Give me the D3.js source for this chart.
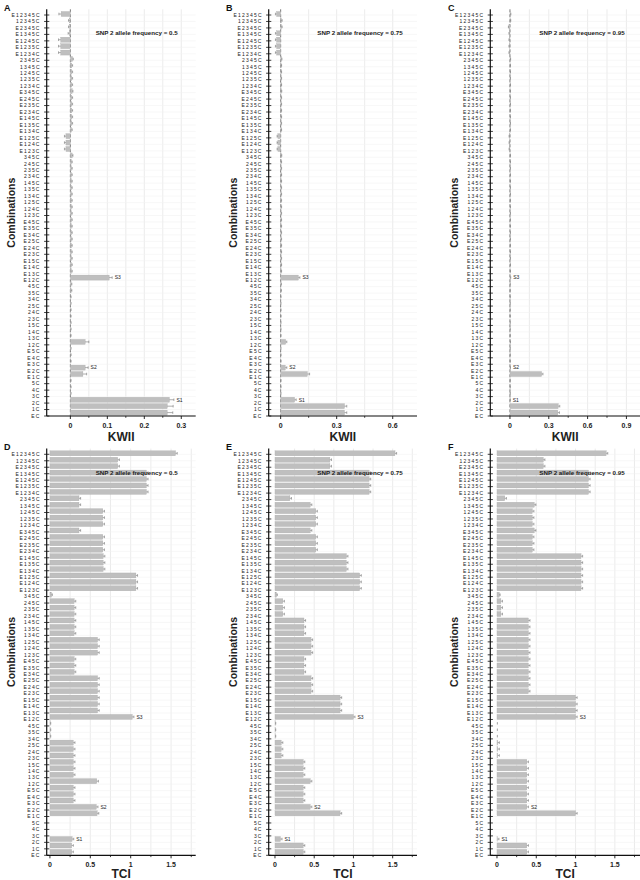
<!DOCTYPE html>
<html><head><meta charset="utf-8">
<script src="https://cdn.jsdelivr.net/npm/d3@7"></script>
<style>body{margin:0;background:#fff}svg{display:block}</style>
</head><body><svg id="c" width="640" height="880"></svg>
<script>
// categories bottom -> top
const categories = ["EC","1C","2C","3C","4C","5C",
 "E1C","E2C","E3C","E4C","E5C","12C","13C","14C","15C","23C","24C","25C","34C","35C","45C",
 "E12C","E13C","E14C","E15C","E23C","E24C","E25C","E34C","E35C","E45C","123C","124C","125C","134C","135C","145C","234C","235C","245C","345C",
 "E123C","E124C","E125C","E134C","E135C","E145C","E234C","E235C","E245C","E345C","1234C","1235C","1245C","1345C","2345C",
 "E1234C","E1235C","E1245C","E1345C","E2345C","12345C",
 "E12345C"];

const kwiiA = [0.262,0.262,0.268,0.001,0.001,0.001,
 0.034,0.040,0.001,0.001,0.001,0.040,0.001,0.001,0.001,0.001,0.001,0.001,0.001,0.002,0.002,
 0.105,0.003,0.003,0.003,0.003,0.003,0.003,0.003,0.003,0.003,0.003,0.003,0.003,0.003,0.003,0.003,0.003,0.003,0.003,0.005,
 -0.012,-0.012,-0.012,0.003,0.004,0.004,0.004,0.004,0.004,0.005,0.004,0.004,0.004,0.004,0.006,
 -0.026,-0.026,-0.026,-0.003,-0.002,-0.002,
 -0.025];
const errA = [0.015,0.016,0.012,0.001,0.001,0.001,
 0.010,0.008,0.001,0.001,0.001,0.010,0.001,0.001,0.001,0.001,0.001,0.001,0.001,0.002,0.002,
 0.008,0.002,0.002,0.002,0.002,0.002,0.002,0.002,0.002,0.002,0.002,0.002,0.002,0.002,0.002,0.002,0.002,0.002,0.002,0.002,
 0.004,0.004,0.004,0.002,0.002,0.002,0.002,0.002,0.002,0.002,0.002,0.002,0.002,0.002,0.002,
 0.006,0.006,0.006,0.003,0.003,0.003,
 0.006];

const kwiiB = [0.342,0.342,0.075,0.001,0.001,0.001,
 0.143,0.025,0.001,0.001,0.001,0.027,0.001,0.001,0.001,0.001,0.001,0.001,0.001,0.002,0.002,
 0.095,0.003,0.003,0.003,0.003,0.003,0.003,0.003,0.003,0.003,0.003,0.003,0.003,0.003,0.003,0.003,0.003,0.003,0.003,0.004,
 -0.015,-0.015,-0.015,0.003,0.003,0.003,0.003,0.003,0.003,0.004,0.003,0.003,0.003,0.003,0.005,
 -0.022,-0.022,-0.022,-0.022,0.004,0.004,
 -0.022];
const errB = [0.012,0.012,0.008,0.001,0.001,0.001,
 0.012,0.008,0.001,0.001,0.001,0.006,0.001,0.001,0.001,0.001,0.001,0.001,0.001,0.002,0.002,
 0.008,0.002,0.002,0.002,0.002,0.002,0.002,0.002,0.002,0.002,0.002,0.002,0.002,0.002,0.002,0.002,0.002,0.002,0.002,0.002,
 0.004,0.004,0.004,0.002,0.002,0.002,0.002,0.002,0.002,0.002,0.002,0.002,0.002,0.002,0.002,
 0.006,0.006,0.006,0.006,0.004,0.004,
 0.006];

const kwiiC = [0.370,0.373,0.001,0.001,0.001,0.001,
 0.245,0.002,0.001,0.001,0.001,0.002,0.001,0.001,0.001,0.001,0.001,0.001,0.001,0.001,0.001,
 0.003,0.002,0.002,0.002,0.002,0.002,0.002,0.002,0.002,0.002,0.002,0.002,0.002,0.002,0.002,0.002,0.002,0.002,0.002,0.002,
 -0.004,-0.004,-0.004,0.002,0.002,0.002,0.002,0.002,0.002,0.002,0.002,0.002,0.002,0.002,0.003,
 -0.004,-0.004,-0.004,-0.004,-0.008,0.003,
 0.003];
const errC = [0.012,0.012,0.001,0.001,0.001,0.001,
 0.010,0.002,0.001,0.001,0.001,0.002,0.001,0.001,0.001,0.001,0.001,0.001,0.001,0.001,0.001,
 0.003,0.002,0.002,0.002,0.002,0.002,0.002,0.002,0.002,0.002,0.002,0.002,0.002,0.002,0.002,0.002,0.002,0.002,0.002,0.002,
 0.003,0.003,0.003,0.002,0.002,0.002,0.002,0.002,0.002,0.002,0.002,0.002,0.002,0.002,0.002,
 0.004,0.004,0.004,0.004,0.004,0.003,
 0.004];

const tciD = [0.27,0.27,0.275,0,0,0,
 0.585,0.575,0.29,0.29,0.29,0.58,0.29,0.29,0.29,0.29,0.29,0.29,0.005,0.005,0.005,
 1.02,0.59,0.59,0.59,0.59,0.59,0.59,0.30,0.30,0.30,0.59,0.59,0.59,0.30,0.30,0.30,0.30,0.30,0.30,0.02,
 1.065,1.065,1.065,0.66,0.66,0.66,0.655,0.655,0.655,0.36,0.655,0.655,0.655,0.36,0.36,
 1.195,1.195,1.195,1.195,0.84,0.84,
 1.556];
const errD = [0.02,0.02,0.02,0,0,0,
 0.02,0.02,0.02,0.02,0.02,0.02,0.02,0.02,0.02,0.02,0.02,0.02,0.005,0.005,0.005,
 0.02,0.02,0.02,0.02,0.02,0.02,0.02,0.02,0.02,0.02,0.02,0.02,0.02,0.02,0.02,0.02,0.02,0.02,0.02,0.01,
 0.02,0.02,0.02,0.02,0.02,0.02,0.02,0.02,0.02,0.02,0.02,0.02,0.02,0.02,0.02,
 0.02,0.02,0.02,0.02,0.02,0.02,
 0.02];

const tciE = [0.36,0.36,0.07,0,0,0,
 0.83,0.45,0.36,0.36,0.36,0.45,0.36,0.36,0.36,0.08,0.08,0.08,0.005,0.005,0.005,
 1.0,0.83,0.83,0.83,0.46,0.46,0.46,0.37,0.37,0.37,0.46,0.46,0.46,0.37,0.37,0.37,0.10,0.10,0.10,0.02,
 1.08,1.08,1.08,0.91,0.91,0.91,0.52,0.52,0.52,0.45,0.52,0.52,0.52,0.45,0.19,
 1.2,1.2,1.2,1.2,0.70,0.70,
 1.53];
const errE = errD;

const tciF = [0.38,0.38,0.005,0,0,0,
 1.0,0.38,0.38,0.38,0.38,0.38,0.38,0.38,0.38,0.01,0.01,0.01,0,0,0,
 1.0,1.0,1.0,1.0,0.4,0.4,0.4,0.4,0.4,0.4,0.4,0.4,0.4,0.4,0.4,0.4,0.05,0.05,0.05,0.03,
 1.07,1.07,1.07,1.07,1.07,1.07,0.45,0.45,0.45,0.475,0.45,0.45,0.45,0.475,0.10,
 1.165,1.165,1.165,1.165,0.59,0.59,
 1.39];
const errF = errD;

const panelLetters = ["A","B","C","D","E","F"];
const freqLabels = ["SNP 2 allele frequency = 0.5","SNP 2 allele frequency = 0.75","SNP 2 allele frequency = 0.95"];
const kwiiTicks = [[0,0.1,0.2,0.3],[0,0.3,0.6],[0,0.3,0.6,0.9]];
const kwiiMinor = [[0.05,0.15,0.25],[0.15,0.45],[0.15,0.45,0.75]];
const tciTicks = [0,0.5,1,1.5];
const tciMinor = [0.25,0.75,1.25,1.75];
const sLabels = [["2C","S1"],["E2C","S2"],["E12C","S3"]];

const svg = d3.select("#c");
const FONT = "'Liberation Sans', Arial, Helvetica, sans-serif";

const cols = [
  {ax:46.7, x1:195.7, annX:95.7, letterX:4},
  {ax:268.7, x1:417, annX:317.3, letterX:226},
  {ax:490.3, x1:640, annX:539.3, letterX:448}
];
const kDomains = [[-0.064,0.339],[-0.064,0.73],[-0.152,1.005]];
const tDomains = [[-0.04,1.805],[-0.08,1.81],[-0.085,1.82]];

const panels = [];
const kv = [kwiiA,kwiiB,kwiiC], ke = [errA,errB,errC];
const tv = [tciD,tciE,tciF], te = [errD,errE,errF];
for (let i=0;i<3;i++) panels.push({col:i,row:0,letter:panelLetters[i],vals:kv[i],errs:ke[i],dom:kDomains[i],ticks:kwiiTicks[i],minor:kwiiMinor[i],title:"KWII",titleDy:24.5,dashed:true,ann:freqLabels[i]});
for (let i=0;i<3;i++) panels.push({col:i,row:1,letter:panelLetters[i+3],vals:tv[i],errs:te[i],dom:tDomains[i],ticks:tciTicks,minor:tciMinor,title:"TCI",titleDy:22.5,dashed:false,ann:freqLabels[i]});

panels.forEach(p => {
  const c = cols[p.col];
  const dy = p.row === 0 ? 0 : 439.3;
  const top = 9.3 + dy, bottom = 416 + dy;
  const g = svg.append("g");
  const x = d3.scaleLinear().domain(p.dom).range([c.ax, c.x1]);
  const yTick = d3.scalePoint().domain(categories).range([bottom, 15 + dy]);
  const yBar = d3.scalePoint().domain(categories).range([bottom - 3.4, 14 + dy]);
  const barH = 5;

  g.selectAll("line.vg").data(p.ticks.filter(t=>t!==0).concat(p.minor)).enter().append("line")
    .attr("x1", d=>x(d)).attr("x2", d=>x(d)).attr("y1", top).attr("y2", bottom)
    .attr("stroke", "#e6e6e6").attr("stroke-width", 0.8);
  g.selectAll("line.hg").data(categories).enter().append("line")
    .attr("x1", c.ax).attr("x2", c.x1).attr("y1", d=>yTick(d)).attr("y2", d=>yTick(d))
    .attr("stroke", "#f1f1f1").attr("stroke-width", 0.6);

  if (p.dashed) {
    g.append("line").attr("x1", x(0)).attr("x2", x(0)).attr("y1", top).attr("y2", bottom)
      .attr("stroke", "#555").attr("stroke-width", 0.8).attr("stroke-dasharray", "3,2");
  }

  const data = categories.map((cat,i)=>({cat, v:p.vals[i], e:p.errs[i]}));
  g.selectAll("rect.bar").data(data).enter().append("rect")
    .attr("x", d=>Math.min(x(0), x(d.v)))
    .attr("width", d=>Math.abs(x(d.v)-x(0)))
    .attr("y", d=>yBar(d.cat)-barH/2).attr("height", barH)
    .attr("fill", "#bfbfbf").attr("stroke", "#a9a9a9").attr("stroke-width", 0.3);
  const eg = g.selectAll("g.err").data(data.filter(d=>d.e>0)).enter().append("g");
  eg.append("line")
    .attr("x1", d=>x(d.v)).attr("x2", d=>x(d.v + (d.v<0?-d.e:d.e)))
    .attr("y1", d=>yBar(d.cat)).attr("y2", d=>yBar(d.cat))
    .attr("stroke", "#777").attr("stroke-width", 0.6);
  eg.append("line")
    .attr("x1", d=>x(d.v + (d.v<0?-d.e:d.e))).attr("x2", d=>x(d.v + (d.v<0?-d.e:d.e)))
    .attr("y1", d=>yBar(d.cat)-1.3).attr("y2", d=>yBar(d.cat)+1.3)
    .attr("stroke", "#777").attr("stroke-width", 0.6);

  sLabels.forEach(([cat,txt]) => {
    const i = categories.indexOf(cat);
    const v = p.vals[i], e = p.errs[i];
    g.append("text").attr("x", x(v+e)+2.5).attr("y", yBar(cat)+1.8)
      .attr("font-family", FONT).attr("font-size", 5).attr("fill", "#222").text(txt);
  });

  const yAxis = g.append("g");
  yAxis.append("line").attr("x1", c.ax).attr("x2", c.ax).attr("y1", top).attr("y2", bottom)
    .attr("stroke", "#111").attr("stroke-width", 1.2);
  yAxis.selectAll("line.t").data(categories).enter().append("line")
    .attr("x1", c.ax-2.6).attr("x2", c.ax+2.6).attr("y1", d=>yTick(d)).attr("y2", d=>yTick(d))
    .attr("stroke", "#111").attr("stroke-width", 0.8);
  yAxis.selectAll("text").data(categories).enter().append("text")
    .attr("x", c.ax-6).attr("y", d=>yTick(d)+1.8)
    .attr("text-anchor", "end").attr("font-family", FONT).attr("font-size", 5)
    .attr("letter-spacing", 1.2).attr("fill", "#222").text(d=>d);

  const xAxis = g.append("g");
  xAxis.append("line").attr("x1", c.ax).attr("x2", c.x1).attr("y1", bottom).attr("y2", bottom)
    .attr("stroke", "#111").attr("stroke-width", 1.2);
  xAxis.selectAll("line.maj").data(p.ticks).enter().append("line")
    .attr("x1", d=>x(d)).attr("x2", d=>x(d)).attr("y1", bottom).attr("y2", bottom+3)
    .attr("stroke", "#111").attr("stroke-width", 0.9);
  xAxis.selectAll("line.min").data(p.minor.filter(d=>x(d)<=c.x1)).enter().append("line")
    .attr("x1", d=>x(d)).attr("x2", d=>x(d)).attr("y1", bottom).attr("y2", bottom+1.8)
    .attr("stroke", "#111").attr("stroke-width", 0.8);
  xAxis.selectAll("text").data(p.ticks).enter().append("text")
    .attr("x", d=>x(d)).attr("y", bottom+12)
    .attr("text-anchor", "middle").attr("font-family", FONT).attr("font-size", 7).attr("font-weight", "bold")
    .attr("fill", "#222").text(d=>d3.format("~g")(d));
  g.append("text").attr("x", (c.ax + c.x1)/2).attr("y", bottom + p.titleDy)
    .attr("text-anchor", "middle").attr("font-family", FONT).attr("font-size", 12).attr("font-weight", "bold")
    .attr("fill", "#222").text(p.title);

  g.append("text").attr("transform", `translate(${c.ax-32},${(top+bottom)/2}) rotate(-90)`)
    .attr("text-anchor", "middle").attr("font-family", FONT).attr("font-size", 10.5).attr("font-weight", "bold")
    .attr("fill", "#222").text("Combinations");

  g.append("text").attr("x", c.annX).attr("y", top + 26)
    .attr("font-family", FONT).attr("font-size", 6.2).attr("font-weight", "bold").attr("fill", "#222").text(p.ann);

  g.append("text").attr("x", c.letterX).attr("y", top + 1.5)
    .attr("font-family", FONT).attr("font-size", 9).attr("font-weight", "bold").attr("fill", "#111").text(p.letter);
});
</script></blockquote></body></html>
